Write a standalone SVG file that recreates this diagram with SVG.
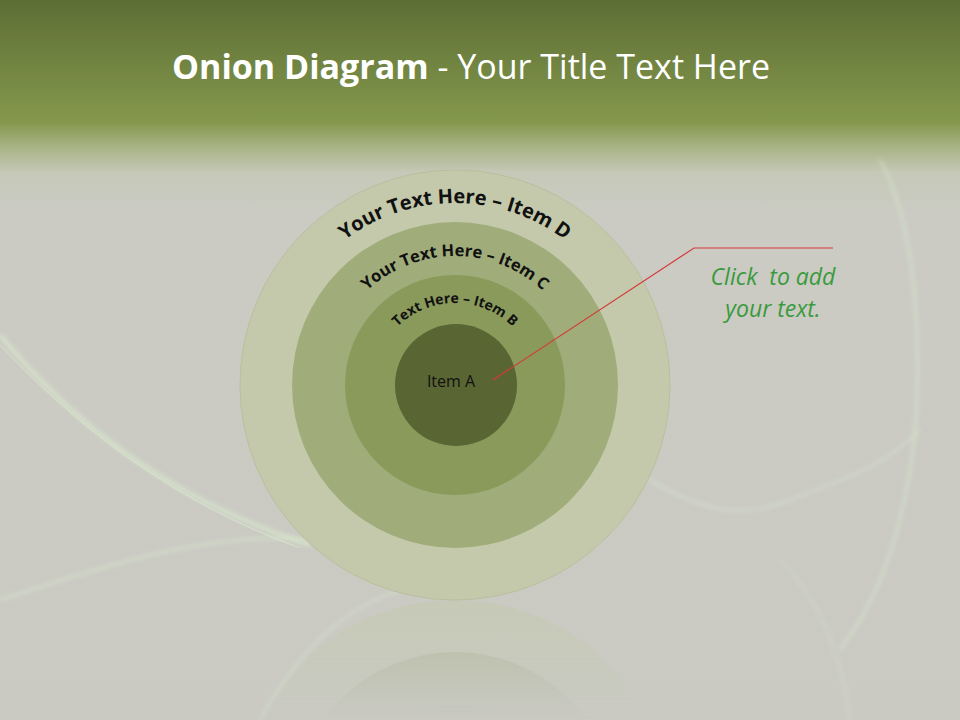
<svg xmlns="http://www.w3.org/2000/svg" width="960" height="720" viewBox="0 0 960 720">
<defs>
<linearGradient id="bg" x1="0" y1="0" x2="0" y2="1">
<stop offset="0" stop-color="#5d6e35"/>
<stop offset="0.17" stop-color="#84984c"/>
<stop offset="0.2" stop-color="#a5b07f"/>
<stop offset="0.24" stop-color="#c6c9b8"/>
<stop offset="0.3" stop-color="#cbcbc4"/>
<stop offset="1" stop-color="#cacac3"/>
</linearGradient>
<linearGradient id="refFade" x1="0" y1="0" x2="0" y2="1">
<stop offset="0" stop-color="#fff" stop-opacity="0.5"/>
<stop offset="1" stop-color="#fff" stop-opacity="0"/>
</linearGradient>
<mask id="refMask" maskUnits="userSpaceOnUse" x="0" y="600" width="960" height="120">
<rect x="0" y="600" width="960" height="120" fill="url(#refFade)"/>
</mask>
<filter id="glow" x="-10%" y="-10%" width="120%" height="120%">
<feGaussianBlur stdDeviation="2"/>
</filter>
<path id="arcD" d="M273,385 A182,182 0 0 1 637,385"/>
<path id="arcC" d="M326,385 A129,129 0 0 1 584,385"/>
<path id="arcB" d="M373,385 A82,82 0 0 1 537,385"/>
</defs>
<style>
.arc{font-family:"Open Sans","Liberation Sans",sans-serif;font-weight:bold;fill:#111;}
.title{font-family:"Open Sans","Liberation Sans",sans-serif;fill:#fff;font-size:34px;}
.note{font-family:"Open Sans","Liberation Sans",sans-serif;font-style:italic;fill:#3a9a3e;font-size:23px;}
.swoosh{fill:none;stroke:#def2cf;stroke-opacity:0.6;}
</style>
<rect x="0" y="0" width="960" height="720" fill="url(#bg)"/>
<g id="swooshes">
<path class="swoosh" d="M0,335 C70,420 170,500 310,545" stroke-width="4" filter="url(#glow)"/>
<path class="swoosh" d="M0,345 C80,430 180,505 300,548" stroke-width="1"/>
<path class="swoosh" d="M0,600 C120,560 220,530 320,540" stroke-width="2" filter="url(#glow)"/>
<path class="swoosh" d="M650,480 C700,510 740,520 790,500 C840,480 880,470 920,430" stroke-width="1.5" filter="url(#glow)"/>
<path class="swoosh" d="M880,160 C920,230 925,380 910,470 C895,560 870,610 840,650" stroke-width="2" filter="url(#glow)"/>
<path class="swoosh" d="M260,720 C300,650 340,610 400,590" stroke-width="1.5" filter="url(#glow)"/>
<path class="swoosh" d="M780,560 C820,600 840,650 850,720" stroke-width="1" filter="url(#glow)"/>
</g>
<g id="reflection" mask="url(#refMask)">
<circle cx="455" cy="815" r="215" fill="#c3c9aa"/>
<circle cx="455" cy="815" r="163" fill="#a0ad7b"/>
<circle cx="455" cy="815" r="110" fill="#8a9a5b"/>
</g>
<g id="title">
<text x="471" y="79" text-anchor="middle" class="title"><tspan font-weight="bold">Onion Diagram</tspan> - Your Title Text Here</text>
</g>
<g id="itemD">
<circle cx="455" cy="385" r="215" fill="#c3c9aa" stroke="#b9bf9e" stroke-width="1"/>
<text class="arc" font-size="20"><textPath href="#arcD" startOffset="50%" text-anchor="middle">Your Text Here – Item D</textPath></text>
</g>
<g id="itemC">
<circle cx="455" cy="385" r="163" fill="#a0ad7b"/>
<text class="arc" font-size="16.5"><textPath href="#arcC" startOffset="50%" text-anchor="middle">Your Text Here – Item C</textPath></text>
</g>
<g id="itemB">
<circle cx="455" cy="385" r="110" fill="#8a9a5b"/>
<text class="arc" font-size="14"><textPath href="#arcB" startOffset="50%" text-anchor="middle">Text Here – Item B</textPath></text>
</g>
<g id="itemA">
<circle cx="456" cy="385" r="61" fill="#596533"/>
<text x="451" y="387" text-anchor="middle" font-family="Open Sans, Liberation Sans, sans-serif" font-size="16" fill="#111">Item A</text>
</g>
<g id="connectors">
<polyline points="493,380 694,248 833,248" fill="none" stroke="#d43a3a" stroke-width="1.2"/>
</g>
<g id="note">
<text x="773" y="285" text-anchor="middle" class="note" xml:space="preserve">Click  to add</text>
<text x="773" y="317" text-anchor="middle" class="note">your text.</text>
</g>
</svg>
